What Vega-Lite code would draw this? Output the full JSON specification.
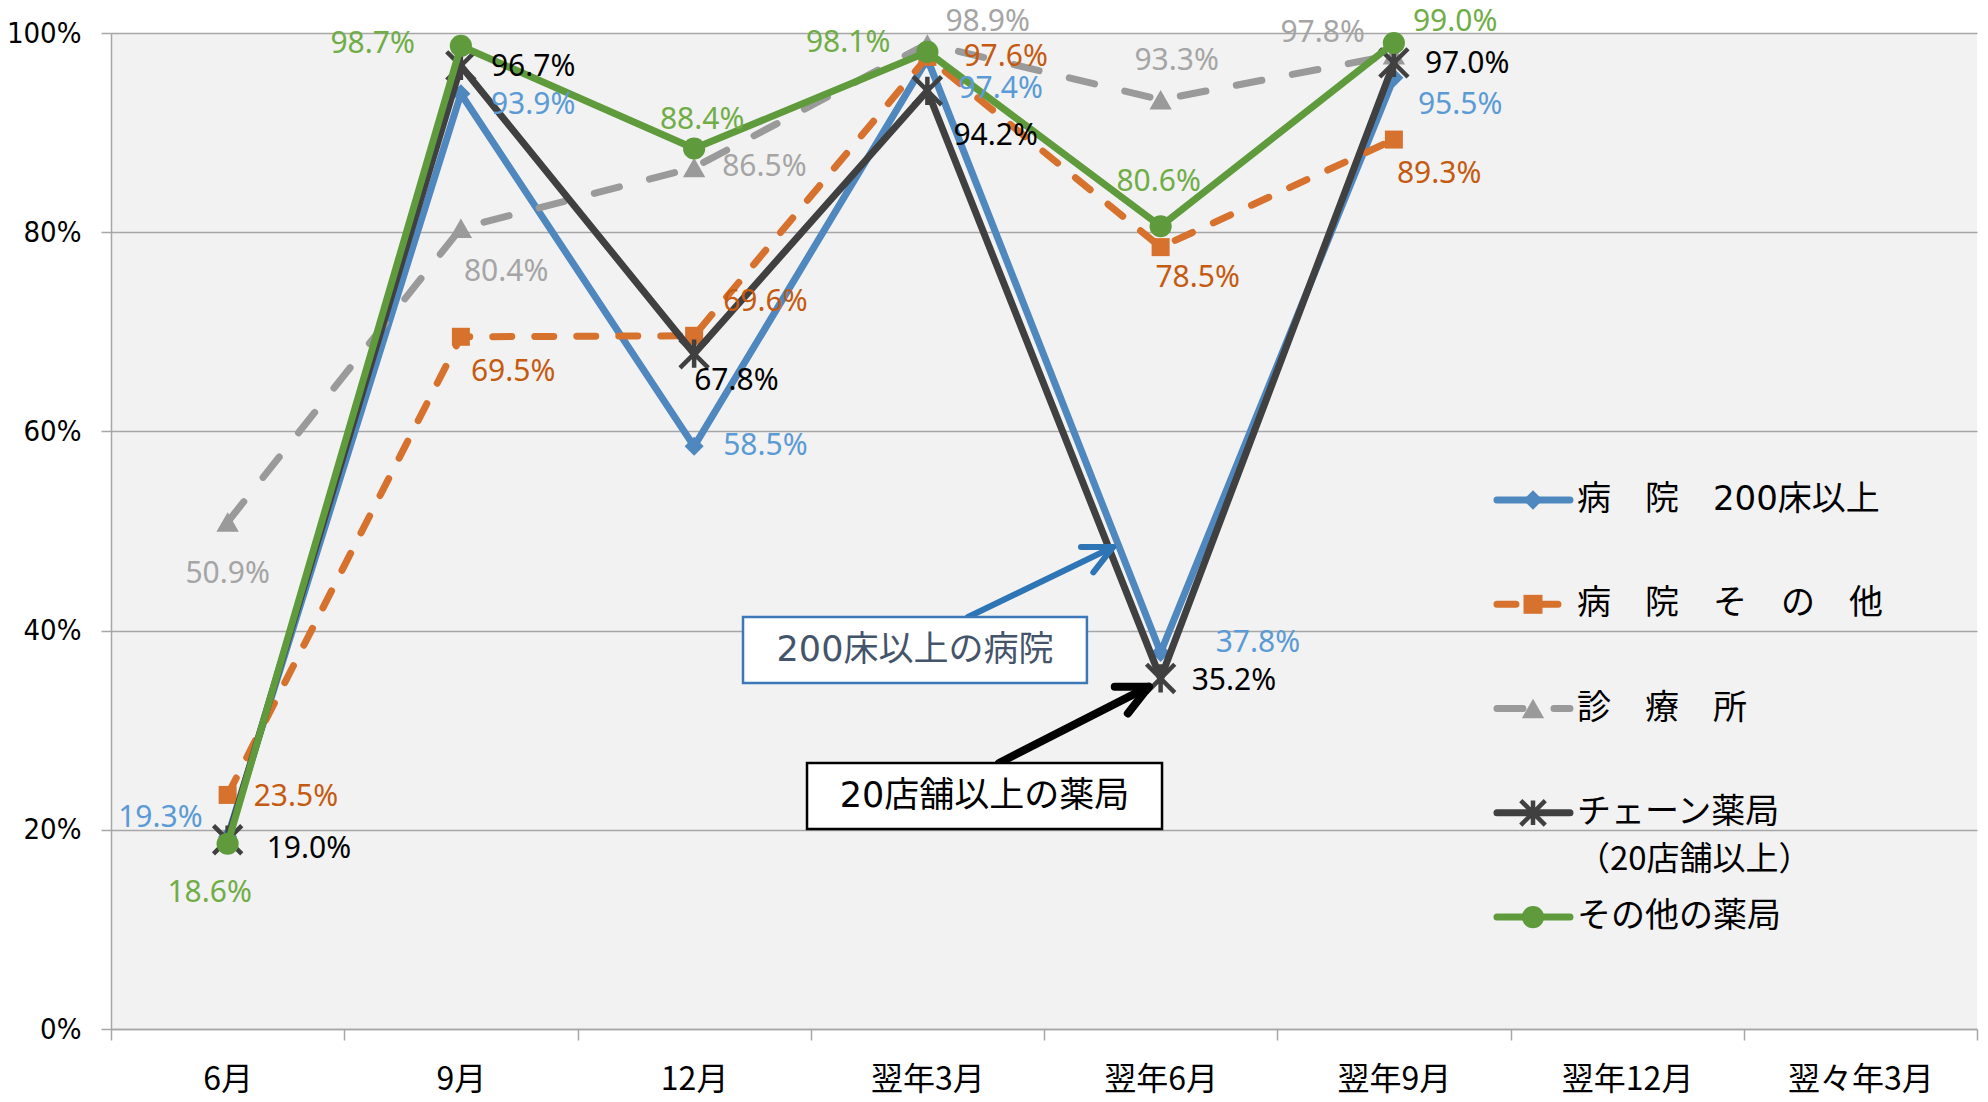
{
  "$schema": "https://vega.github.io/schema/vega-lite/v6.json",
  "width": 1866,
  "height": 996,
  "autosize": {"type": "none"},
  "padding": {"left": 111, "top": 33, "right": 11, "bottom": 73},
  "background": "#ffffff",
  "config": {
    "view": {"fill": "#f2f2f2", "stroke": null},
    "text": {"font": "Noto Sans", "fontSize": 30, "baseline": "middle"}
  },
  "datasets": {
    "main": [
      {"month": "6月", "series": "病院200床以上", "value": 0.193},
      {"month": "9月", "series": "病院200床以上", "value": 0.939},
      {"month": "12月", "series": "病院200床以上", "value": 0.585},
      {"month": "翌年3月", "series": "病院200床以上", "value": 0.974},
      {"month": "翌年6月", "series": "病院200床以上", "value": 0.378},
      {"month": "翌年9月", "series": "病院200床以上", "value": 0.955},
      {"month": "6月", "series": "病院その他", "value": 0.235},
      {"month": "9月", "series": "病院その他", "value": 0.695},
      {"month": "12月", "series": "病院その他", "value": 0.696},
      {"month": "翌年3月", "series": "病院その他", "value": 0.976},
      {"month": "翌年6月", "series": "病院その他", "value": 0.785},
      {"month": "翌年9月", "series": "病院その他", "value": 0.893},
      {"month": "6月", "series": "診療所", "value": 0.509},
      {"month": "9月", "series": "診療所", "value": 0.804},
      {"month": "12月", "series": "診療所", "value": 0.865},
      {"month": "翌年3月", "series": "診療所", "value": 0.989},
      {"month": "翌年6月", "series": "診療所", "value": 0.933},
      {"month": "翌年9月", "series": "診療所", "value": 0.978},
      {"month": "6月", "series": "チェーン薬局", "value": 0.190},
      {"month": "9月", "series": "チェーン薬局", "value": 0.967},
      {"month": "12月", "series": "チェーン薬局", "value": 0.678},
      {"month": "翌年3月", "series": "チェーン薬局", "value": 0.942},
      {"month": "翌年6月", "series": "チェーン薬局", "value": 0.352},
      {"month": "翌年9月", "series": "チェーン薬局", "value": 0.970},
      {"month": "6月", "series": "その他の薬局", "value": 0.186},
      {"month": "9月", "series": "その他の薬局", "value": 0.987},
      {"month": "12月", "series": "その他の薬局", "value": 0.884},
      {"month": "翌年3月", "series": "その他の薬局", "value": 0.981},
      {"month": "翌年6月", "series": "その他の薬局", "value": 0.806},
      {"month": "翌年9月", "series": "その他の薬局", "value": 0.990}
    ],
    "legend": [
      {"series": "病院200床以上", "label": "病　院　200床以上"},
      {"series": "病院その他", "label": "病　院　そ　の　他"},
      {"series": "診療所", "label": "診　療　所"},
      {"series": "チェーン薬局", "label": "チェーン薬局", "sub": "（20店舗以上）"},
      {"series": "その他の薬局", "label": "その他の薬局"}
    ]
  },
  "layer": [
    {
      "data": {"name": "main"},
      "encoding": {
        "x": {
          "field": "month", "type": "nominal",
          "scale": {"type": "band", "domain": ["6月", "9月", "12月", "翌年3月", "翌年6月", "翌年9月", "翌年12月", "翌々年3月"], "paddingInner": 0, "paddingOuter": 0},
          "axis": {"title": null, "labelAngle": 0, "tickBand": "extent", "labelFont": "Noto Sans CJK JP", "labelFontSize": 32, "labelColor": "#000000", "labelPadding": 24, "domainColor": "#A6A6A6", "domainWidth": 1.5, "tickColor": "#A6A6A6", "tickWidth": 1.5, "tickSize": 11, "grid": false}
        },
        "y": {
          "field": "value", "type": "quantitative",
          "scale": {"domain": [0, 1], "nice": false},
          "axis": {"title": null, "values": [0, 0.2, 0.4, 0.6, 0.8, 1], "format": ".0%", "labelFont": "DejaVu Sans Condensed, Noto Sans", "labelFontSize": 29, "labelColor": "#000000", "labelPadding": 20, "grid": true, "gridColor": "#A6A6A6", "gridWidth": 1.5, "domainColor": "#A6A6A6", "domainWidth": 1.5, "tickColor": "#A6A6A6", "tickWidth": 1.5, "tickSize": 10}
        }
      },
      "layer": [
        {"transform": [{"filter": "datum.series=='病院200床以上'"}], "mark": {"type": "line", "color": "#4F87BF", "strokeWidth": 7, "strokeCap": "round", "strokeJoin": "round"}, "encoding": {}},
        {"transform": [{"filter": "datum.series=='病院200床以上'"}], "mark": {"type": "point", "shape": "diamond", "filled": true, "color": "#4F87BF", "size": 360, "opacity": 1}},
        {"transform": [{"filter": "datum.series=='病院その他'"}], "mark": {"type": "line", "color": "#D6722D", "strokeWidth": 7, "strokeCap": "round", "strokeJoin": "round", "strokeDash": [19, 23]}, "encoding": {}},
        {"transform": [{"filter": "datum.series=='病院その他'"}], "mark": {"type": "point", "shape": "square", "filled": true, "color": "#D6722D", "size": 324, "opacity": 1}},
        {"transform": [{"filter": "datum.series=='診療所'"}], "mark": {"type": "line", "color": "#9A9A9A", "strokeWidth": 7, "strokeCap": "round", "strokeJoin": "round", "strokeDash": [26, 31]}, "encoding": {}},
        {"transform": [{"filter": "datum.series=='診療所'"}], "mark": {"type": "point", "shape": "triangle-up", "filled": true, "color": "#9A9A9A", "size": 500, "opacity": 1}},
        {"transform": [{"filter": "datum.series=='チェーン薬局'"}], "mark": {"type": "line", "color": "#404040", "strokeWidth": 7, "strokeCap": "round", "strokeJoin": "round"}, "encoding": {}},
        {"transform": [{"filter": "datum.series=='チェーン薬局'"}], "mark": {"type": "point", "shape": "M-1,-1L1,1M-1,1L1,-1M0,-1L0,1", "filled": false, "color": "#404040", "strokeWidth": 4.5, "size": 800, "opacity": 1}},
        {"transform": [{"filter": "datum.series=='その他の薬局'"}], "mark": {"type": "line", "color": "#5F9B3C", "strokeWidth": 7, "strokeCap": "round", "strokeJoin": "round"}, "encoding": {}},
        {"transform": [{"filter": "datum.series=='その他の薬局'"}], "mark": {"type": "point", "shape": "circle", "filled": true, "color": "#5F9B3C", "size": 491, "opacity": 1}},

        {"transform": [{"filter": "datum.series=='病院200床以上' && datum.month=='6月'"}], "mark": {"type": "text", "align": "right", "dx": -25, "dy": -19, "color": "#5B9BD5"}, "encoding": {"text": {"field": "value", "type": "quantitative", "format": ".1%"}}},
        {"transform": [{"filter": "datum.series=='病院200床以上' && datum.month=='9月'"}], "mark": {"type": "text", "align": "left", "dx": 30, "dy": 11, "color": "#5B9BD5"}, "encoding": {"text": {"field": "value", "type": "quantitative", "format": ".1%"}}},
        {"transform": [{"filter": "datum.series=='病院200床以上' && datum.month=='12月'"}], "mark": {"type": "text", "align": "left", "dx": 29, "dy": 0, "color": "#5B9BD5"}, "encoding": {"text": {"field": "value", "type": "quantitative", "format": ".1%"}}},
        {"transform": [{"filter": "datum.series=='病院200床以上' && datum.month=='翌年3月'"}], "mark": {"type": "text", "align": "left", "dx": 31, "dy": 30, "color": "#5B9BD5"}, "encoding": {"text": {"field": "value", "type": "quantitative", "format": ".1%"}}},
        {"transform": [{"filter": "datum.series=='病院200床以上' && datum.month=='翌年6月'"}], "mark": {"type": "text", "align": "left", "dx": 55, "dy": -10, "color": "#5B9BD5"}, "encoding": {"text": {"field": "value", "type": "quantitative", "format": ".1%"}}},
        {"transform": [{"filter": "datum.series=='病院200床以上' && datum.month=='翌年9月'"}], "mark": {"type": "text", "align": "left", "dx": 24, "dy": 27, "color": "#5B9BD5"}, "encoding": {"text": {"field": "value", "type": "quantitative", "format": ".1%"}}},

        {"transform": [{"filter": "datum.series=='病院その他' && datum.month=='6月'"}], "mark": {"type": "text", "align": "left", "dx": 26, "dy": 2, "color": "#C55A11"}, "encoding": {"text": {"field": "value", "type": "quantitative", "format": ".1%"}}},
        {"transform": [{"filter": "datum.series=='病院その他' && datum.month=='9月'"}], "mark": {"type": "text", "align": "left", "dx": 10, "dy": 35, "color": "#C55A11"}, "encoding": {"text": {"field": "value", "type": "quantitative", "format": ".1%"}}},
        {"transform": [{"filter": "datum.series=='病院その他' && datum.month=='12月'"}], "mark": {"type": "text", "align": "left", "dx": 29, "dy": -34, "color": "#C55A11"}, "encoding": {"text": {"field": "value", "type": "quantitative", "format": ".1%"}}},
        {"transform": [{"filter": "datum.series=='病院その他' && datum.month=='翌年3月'"}], "mark": {"type": "text", "align": "left", "dx": 36, "dy": 0, "color": "#C55A11"}, "encoding": {"text": {"field": "value", "type": "quantitative", "format": ".1%"}}},
        {"transform": [{"filter": "datum.series=='病院その他' && datum.month=='翌年6月'"}], "mark": {"type": "text", "align": "center", "dx": 37, "dy": 31, "color": "#C55A11"}, "encoding": {"text": {"field": "value", "type": "quantitative", "format": ".1%"}}},
        {"transform": [{"filter": "datum.series=='病院その他' && datum.month=='翌年9月'"}], "mark": {"type": "text", "align": "left", "dx": 3, "dy": 34, "color": "#C55A11"}, "encoding": {"text": {"field": "value", "type": "quantitative", "format": ".1%"}}},

        {"transform": [{"filter": "datum.series=='診療所' && datum.month=='6月'"}], "mark": {"type": "text", "align": "center", "dx": 0, "dy": 52, "color": "#A5A5A5"}, "encoding": {"text": {"field": "value", "type": "quantitative", "format": ".1%"}}},
        {"transform": [{"filter": "datum.series=='診療所' && datum.month=='9月'"}], "mark": {"type": "text", "align": "left", "dx": 3, "dy": 44, "color": "#A5A5A5"}, "encoding": {"text": {"field": "value", "type": "quantitative", "format": ".1%"}}},
        {"transform": [{"filter": "datum.series=='診療所' && datum.month=='12月'"}], "mark": {"type": "text", "align": "left", "dx": 28, "dy": 0, "color": "#A5A5A5"}, "encoding": {"text": {"field": "value", "type": "quantitative", "format": ".1%"}}},
        {"transform": [{"filter": "datum.series=='診療所' && datum.month=='翌年3月'"}], "mark": {"type": "text", "align": "left", "dx": 18, "dy": -22, "color": "#A5A5A5"}, "encoding": {"text": {"field": "value", "type": "quantitative", "format": ".1%"}}},
        {"transform": [{"filter": "datum.series=='診療所' && datum.month=='翌年6月'"}], "mark": {"type": "text", "align": "center", "dx": 16, "dy": -39, "color": "#A5A5A5"}, "encoding": {"text": {"field": "value", "type": "quantitative", "format": ".1%"}}},
        {"transform": [{"filter": "datum.series=='診療所' && datum.month=='翌年9月'"}], "mark": {"type": "text", "align": "right", "dx": -29, "dy": -22, "color": "#A5A5A5"}, "encoding": {"text": {"field": "value", "type": "quantitative", "format": ".1%"}}},

        {"transform": [{"filter": "datum.series=='チェーン薬局' && datum.month=='6月'"}], "mark": {"type": "text", "align": "left", "dx": 39, "dy": 9, "color": "#000000"}, "encoding": {"text": {"field": "value", "type": "quantitative", "format": ".1%"}}},
        {"transform": [{"filter": "datum.series=='チェーン薬局' && datum.month=='9月'"}], "mark": {"type": "text", "align": "left", "dx": 30, "dy": 1, "color": "#000000"}, "encoding": {"text": {"field": "value", "type": "quantitative", "format": ".1%"}}},
        {"transform": [{"filter": "datum.series=='チェーン薬局' && datum.month=='12月'"}], "mark": {"type": "text", "align": "left", "dx": 0, "dy": 27, "color": "#000000"}, "encoding": {"text": {"field": "value", "type": "quantitative", "format": ".1%"}}},
        {"transform": [{"filter": "datum.series=='チェーン薬局' && datum.month=='翌年3月'"}], "mark": {"type": "text", "align": "left", "dx": 26, "dy": 45, "color": "#000000"}, "encoding": {"text": {"field": "value", "type": "quantitative", "format": ".1%"}}},
        {"transform": [{"filter": "datum.series=='チェーン薬局' && datum.month=='翌年6月'"}], "mark": {"type": "text", "align": "left", "dx": 31, "dy": 3, "color": "#000000"}, "encoding": {"text": {"field": "value", "type": "quantitative", "format": ".1%"}}},
        {"transform": [{"filter": "datum.series=='チェーン薬局' && datum.month=='翌年9月'"}], "mark": {"type": "text", "align": "left", "dx": 31, "dy": 1, "color": "#000000"}, "encoding": {"text": {"field": "value", "type": "quantitative", "format": ".1%"}}},

        {"transform": [{"filter": "datum.series=='その他の薬局' && datum.month=='6月'"}], "mark": {"type": "text", "align": "center", "dx": -18, "dy": 49, "color": "#70AD47"}, "encoding": {"text": {"field": "value", "type": "quantitative", "format": ".1%"}}},
        {"transform": [{"filter": "datum.series=='その他の薬局' && datum.month=='9月'"}], "mark": {"type": "text", "align": "right", "dx": -46, "dy": -2, "color": "#70AD47"}, "encoding": {"text": {"field": "value", "type": "quantitative", "format": ".1%"}}},
        {"transform": [{"filter": "datum.series=='その他の薬局' && datum.month=='12月'"}], "mark": {"type": "text", "align": "center", "dx": 8, "dy": -29, "color": "#70AD47"}, "encoding": {"text": {"field": "value", "type": "quantitative", "format": ".1%"}}},
        {"transform": [{"filter": "datum.series=='その他の薬局' && datum.month=='翌年3月'"}], "mark": {"type": "text", "align": "right", "dx": -37, "dy": -9, "color": "#70AD47"}, "encoding": {"text": {"field": "value", "type": "quantitative", "format": ".1%"}}},
        {"transform": [{"filter": "datum.series=='その他の薬局' && datum.month=='翌年6月'"}], "mark": {"type": "text", "align": "center", "dx": -2, "dy": -44, "color": "#70AD47"}, "encoding": {"text": {"field": "value", "type": "quantitative", "format": ".1%"}}},
        {"transform": [{"filter": "datum.series=='その他の薬局' && datum.month=='翌年9月'"}], "mark": {"type": "text", "align": "left", "dx": 19, "dy": -21, "color": "#70AD47"}, "encoding": {"text": {"field": "value", "type": "quantitative", "format": ".1%"}}}
      ]
    },
    {
      "data": {"values": [{}]},
      "layer": [
        {"mark": {"type": "rule", "color": "#2E75B6", "strokeWidth": 6, "strokeCap": "round"},
         "encoding": {
           "x": {"datum": 3.174, "type": "quantitative", "scale": {"domain": [-0.5, 7.5], "nice": false, "zero": false}, "axis": null},
           "x2": {"datum": 3.796},
           "y": {"datum": 0.4137, "type": "quantitative", "scale": {"domain": [0, 1], "nice": false}, "axis": null},
           "y2": {"datum": 0.4839}}},
        {"mark": {"type": "point", "shape": "M-0.9,-0.44L0,0L-0.9,0.44", "filled": false, "color": "#2E75B6", "strokeWidth": 6, "strokeCap": "round", "strokeJoin": "round", "size": 4096, "angle": 334, "opacity": 1},
         "encoding": {
           "x": {"datum": 3.796, "type": "quantitative", "scale": {"domain": [-0.5, 7.5], "nice": false, "zero": false}, "axis": null},
           "y": {"datum": 0.4839, "type": "quantitative", "scale": {"domain": [0, 1], "nice": false}, "axis": null}}},
        {"mark": {"type": "rule", "color": "#000000", "strokeWidth": 8, "strokeCap": "round"},
         "encoding": {
           "x": {"datum": 3.307, "type": "quantitative", "scale": {"domain": [-0.5, 7.5], "nice": false, "zero": false}, "axis": null},
           "x2": {"datum": 3.949},
           "y": {"datum": 0.2671, "type": "quantitative", "scale": {"domain": [0, 1], "nice": false}, "axis": null},
           "y2": {"datum": 0.3437}}},
        {"mark": {"type": "point", "shape": "M-0.9,-0.44L0,0L-0.9,0.44", "filled": false, "color": "#000000", "strokeWidth": 8, "strokeCap": "round", "strokeJoin": "round", "size": 4600, "angle": 334, "opacity": 1},
         "encoding": {
           "x": {"datum": 3.949, "type": "quantitative", "scale": {"domain": [-0.5, 7.5], "nice": false, "zero": false}, "axis": null},
           "y": {"datum": 0.3437, "type": "quantitative", "scale": {"domain": [0, 1], "nice": false}, "axis": null}}},
        {"mark": {"type": "rect", "fill": "#ffffff", "stroke": "#3C78B8", "strokeWidth": 2.5},
         "encoding": {
           "x": {"datum": 2.2096, "type": "quantitative", "scale": {"domain": [-0.5, 7.5], "nice": false, "zero": false}, "axis": null},
           "x2": {"datum": 3.684},
           "y": {"datum": 0.4137, "type": "quantitative", "scale": {"domain": [0, 1], "nice": false}, "axis": null},
           "y2": {"datum": 0.3474}}},
        {"mark": {"type": "text", "text": "200床以上の病院", "font": "DejaVu Sans, Noto Sans CJK JP", "fontSize": 35, "color": "#44546A", "align": "center", "baseline": "middle"},
         "encoding": {
           "x": {"datum": 2.947, "type": "quantitative", "scale": {"domain": [-0.5, 7.5], "nice": false, "zero": false}, "axis": null},
           "y": {"datum": 0.381, "type": "quantitative", "scale": {"domain": [0, 1], "nice": false}, "axis": null}}},
        {"mark": {"type": "rect", "fill": "#ffffff", "stroke": "#000000", "strokeWidth": 2.5},
         "encoding": {
           "x": {"datum": 2.484, "type": "quantitative", "scale": {"domain": [-0.5, 7.5], "nice": false, "zero": false}, "axis": null},
           "x2": {"datum": 4.006},
           "y": {"datum": 0.2671, "type": "quantitative", "scale": {"domain": [0, 1], "nice": false}, "axis": null},
           "y2": {"datum": 0.2008}}},
        {"mark": {"type": "text", "text": "20店舗以上の薬局", "font": "DejaVu Sans, Noto Sans CJK JP", "fontSize": 35, "color": "#000000", "align": "center", "baseline": "middle"},
         "encoding": {
           "x": {"datum": 3.245, "type": "quantitative", "scale": {"domain": [-0.5, 7.5], "nice": false, "zero": false}, "axis": null},
           "y": {"datum": 0.234, "type": "quantitative", "scale": {"domain": [0, 1], "nice": false}, "axis": null}}}
      ]
    },
    {
      "data": {"name": "legend"},
      "encoding": {
        "y": {"field": "series", "type": "nominal", "scale": {"type": "point", "domain": ["_a", "_b", "_c", "_d", "病院200床以上", "病院その他", "診療所", "チェーン薬局", "その他の薬局"], "padding": 0.777, "align": 0.309}, "axis": null}
      },
      "layer": [
        {"mark": {"type": "rule", "strokeWidth": 7, "strokeCap": "round"},
         "encoding": {
           "x": {"datum": 5.442, "type": "quantitative", "scale": {"domain": [-0.5, 7.5], "nice": false, "zero": false}, "axis": null},
           "x2": {"datum": 5.755},
           "color": {"field": "series", "type": "nominal", "scale": {"domain": ["病院200床以上", "病院その他", "診療所", "チェーン薬局", "その他の薬局"], "range": ["#4F87BF", "#D6722D", "#9A9A9A", "#404040", "#5F9B3C"]}, "legend": null},
           "strokeDash": {"field": "series", "type": "nominal", "scale": {"domain": ["病院200床以上", "病院その他", "診療所", "チェーン薬局", "その他の薬局"], "range": [[1, 0], [19, 23], [26, 31], [1, 0], [1, 0]]}, "legend": null}}},
        {"transform": [{"filter": "datum.series=='病院200床以上'"}], "mark": {"type": "point", "shape": "diamond", "filled": true, "color": "#4F87BF", "size": 380, "opacity": 1},
         "encoding": {"x": {"datum": 5.5965, "type": "quantitative", "scale": {"domain": [-0.5, 7.5], "nice": false, "zero": false}, "axis": null}}},
        {"transform": [{"filter": "datum.series=='病院その他'"}], "mark": {"type": "point", "shape": "square", "filled": true, "color": "#D6722D", "size": 360, "opacity": 1},
         "encoding": {"x": {"datum": 5.5965, "type": "quantitative", "scale": {"domain": [-0.5, 7.5], "nice": false, "zero": false}, "axis": null}}},
        {"transform": [{"filter": "datum.series=='診療所'"}], "mark": {"type": "point", "shape": "triangle-up", "filled": true, "color": "#9A9A9A", "size": 500, "opacity": 1},
         "encoding": {"x": {"datum": 5.5965, "type": "quantitative", "scale": {"domain": [-0.5, 7.5], "nice": false, "zero": false}, "axis": null}}},
        {"transform": [{"filter": "datum.series=='チェーン薬局'"}], "mark": {"type": "point", "shape": "M-1,-1L1,1M-1,1L1,-1M0,-1L0,1", "filled": false, "color": "#404040", "strokeWidth": 4.5, "size": 600, "opacity": 1},
         "encoding": {"x": {"datum": 5.5965, "type": "quantitative", "scale": {"domain": [-0.5, 7.5], "nice": false, "zero": false}, "axis": null}}},
        {"transform": [{"filter": "datum.series=='その他の薬局'"}], "mark": {"type": "point", "shape": "circle", "filled": true, "color": "#5F9B3C", "size": 491, "opacity": 1},
         "encoding": {"x": {"datum": 5.5965, "type": "quantitative", "scale": {"domain": [-0.5, 7.5], "nice": false, "zero": false}, "axis": null}}},
        {"mark": {"type": "text", "font": "DejaVu Sans, Noto Sans CJK JP", "fontSize": 34, "color": "#000000", "align": "left", "baseline": "middle"},
         "encoding": {
           "x": {"datum": 5.785, "type": "quantitative", "scale": {"domain": [-0.5, 7.5], "nice": false, "zero": false}, "axis": null},
           "text": {"field": "label", "type": "nominal"}}},
        {"transform": [{"filter": "isValid(datum.sub)"}],
         "mark": {"type": "text", "font": "Noto Sans CJK JP", "fontSize": 33, "color": "#000000", "align": "left", "baseline": "middle", "dy": 47},
         "encoding": {
           "x": {"datum": 5.785, "type": "quantitative", "scale": {"domain": [-0.5, 7.5], "nice": false, "zero": false}, "axis": null},
           "text": {"field": "sub", "type": "nominal"}}}
      ]
    }
  ],
  "resolve": {"scale": {"x": "independent", "y": "independent"}}
}
